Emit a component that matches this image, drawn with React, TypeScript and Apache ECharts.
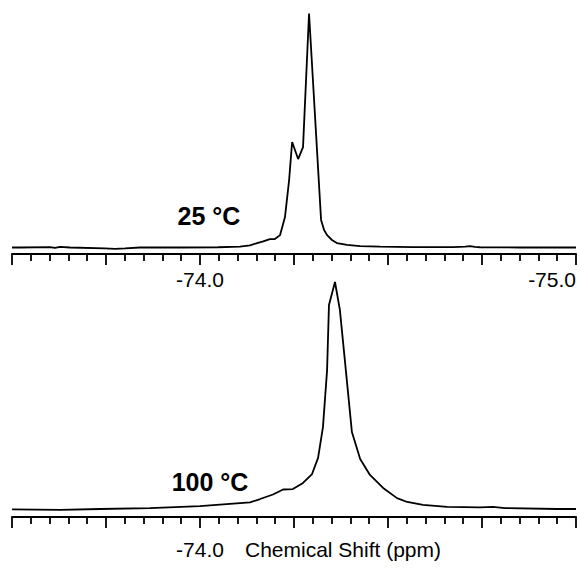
import React, { useEffect, useRef } from "react";
import * as echarts from "echarts";

// 25 °C spectrum
const ppm25 = [-73.5, -73.521, -73.601, -73.614, -73.628, -73.654, -73.747, -73.774, -73.801, -73.84, -73.947, -74.048, -74.106, -74.133, -74.152, -74.168, -74.186, -74.199, -74.213, -74.226, -74.237, -74.245, -74.261, -74.274, -74.29, -74.322, -74.33, -74.338, -74.351, -74.364, -74.391, -74.426, -74.479, -74.566, -74.673, -74.705, -74.718, -74.731, -74.745, -74.851, -75.0];
const int25 = [0, 0, 0.2, -0.2, 0.3, 0, -0.4, -0.6, -0.4, 0, 0, 0.1, 0.4, 0.9, 1.9, 2.6, 3.6, 3.6, 5.3, 13.0, 28.8, 45.1, 37.8, 42.9, 100, 11.8, 7.5, 5.3, 3.2, 1.9, 1.1, 0.6, 0.4, 0.2, 0.2, 0.4, 0.6, 0.3, 0.1, 0, 0];

// 100 °C spectrum
const ppm100 = [-73.5, -73.628, -73.734, -73.867, -74.0, -74.133, -74.16, -74.194, -74.221, -74.247, -74.274, -74.298, -74.314, -74.327, -74.338, -74.343, -74.359, -74.372, -74.386, -74.404, -74.426, -74.452, -74.487, -74.524, -74.551, -74.593, -74.657, -74.745, -74.779, -74.811, -74.949, -75.0];
const int100 = [-0.2, -0.4, 0, 0.4, 1.3, 2.9, 4.4, 6.4, 8.6, 8.8, 11.5, 15.4, 22.5, 36.1, 61.2, 89.9, 100, 87.7, 64.3, 33.9, 22.0, 15.0, 9.3, 4.8, 3.1, 1.8, 0.9, 0.7, 0.9, 0.4, 0, 0];

const spectrumLabels = ["25 °C", "100 °C"];
const tickLabelsTop = ["-74.0", "-75.0"];
const tickLabelsBottom = ["-74.0"];
const axisTitle = "Chemical Shift (ppm)";

const FONT = "'Liberation Sans', Arial, Helvetica, sans-serif";

function fmt(v: number) {
  return v.toFixed(1);
}

function makeXAxis(gridIndex: number, labels: string[], margin: number, name?: string) {
  return {
    type: "value",
    gridIndex,
    min: -75,
    max: -73.5,
    inverse: true,
    interval: 0.25,
    name: name || "",
    nameLocation: "middle",
    nameGap: margin,
    nameMoveOverlap: false,
    nameTextStyle: {
      color: "#000",
      fontFamily: FONT,
      fontSize: 21,
      verticalAlign: "top",
      padding: [0, 0, 0, 98],
    },
    axisLine: { show: true, onZero: false, lineStyle: { color: "#000", width: 2 } },
    axisTick: { show: true, inside: false, length: 11, lineStyle: { color: "#000", width: 1.8 } },
    minorTick: { show: true, splitNumber: 5, length: 7, lineStyle: { color: "#000", width: 1.8 } },
    splitLine: { show: false },
    minorSplitLine: { show: false },
    axisLabel: {
      show: true,
      margin,
      color: "#000",
      fontFamily: FONT,
      fontSize: 21,
      hideOverlap: false,
      alignMinLabel: "right",
      alignMaxLabel: "right",
      formatter: (v: number) => (labels.indexOf(fmt(v)) >= 0 ? fmt(v) : ""),
    },
  };
}

export default function App() {
  const ref = useRef<HTMLDivElement>(null);
  useEffect(() => {
    if (!ref.current) return;
    const chart = echarts.init(ref.current, undefined, { renderer: "svg" });
    const d25 = ppm25.map((p, i) => [p, int25[i]]);
    const d100 = ppm100.map((p, i) => [p, int100[i]]);
    chart.setOption({
      animation: false,
      backgroundColor: "#fff",
      grid: [
        { left: 12, width: 564, top: 10, height: 244, containLabel: false, outerBoundsMode: "none" },
        { left: 12, width: 564, top: 270, height: 247, containLabel: false, outerBoundsMode: "none" },
      ],
      xAxis: [
        makeXAxis(0, tickLabelsTop, 15),
        makeXAxis(1, tickLabelsBottom, 22, axisTitle),
      ],
      yAxis: [
        { type: "value", gridIndex: 0, show: false, min: -2.78, max: 101.5, splitLine: { show: false } },
        { type: "value", gridIndex: 1, show: false, min: -3.52, max: 105.3, splitLine: { show: false } },
      ],
      series: [
        {
          type: "line",
          xAxisIndex: 0,
          yAxisIndex: 0,
          data: d25,
          showSymbol: false,
          lineStyle: { color: "#000", width: 1.8 },
        },
        {
          type: "line",
          xAxisIndex: 1,
          yAxisIndex: 1,
          data: d100,
          showSymbol: false,
          lineStyle: { color: "#000", width: 1.8 },
        },
      ],
      graphic: [
        {
          type: "text",
          x: 209,
          y: 216,
          style: {
            text: spectrumLabels[0],
            fill: "#000",
            font: `bold 25px ${FONT}`,
            textAlign: "center",
            textVerticalAlign: "middle",
          },
        },
        {
          type: "text",
          x: 210,
          y: 482,
          style: {
            text: spectrumLabels[1],
            fill: "#000",
            font: `bold 25px ${FONT}`,
            textAlign: "center",
            textVerticalAlign: "middle",
          },
        },
      ],
    });
    return () => chart.dispose();
  }, []);
  return (
    <div
      ref={ref}
      style={{ position: "absolute", left: 0, top: 0, width: 580, height: 571, background: "#fff" }}
    />
  );
}
